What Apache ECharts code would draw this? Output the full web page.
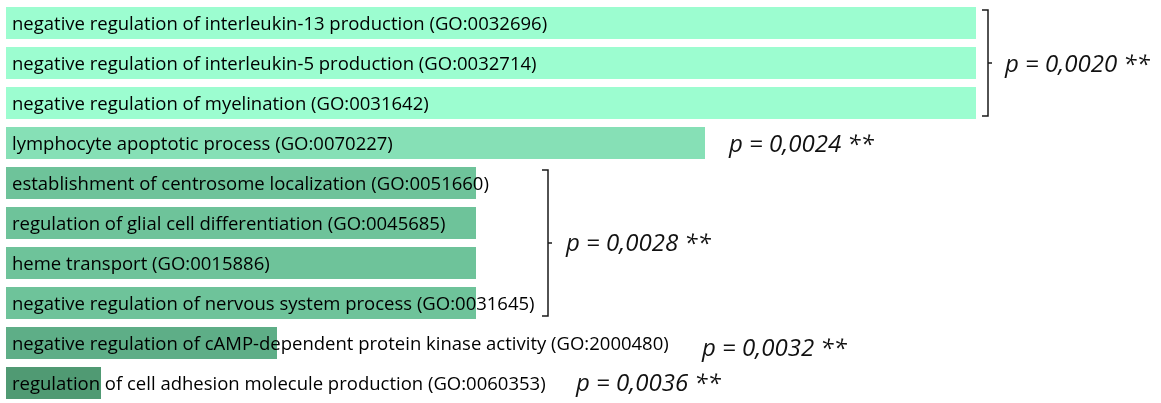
<!DOCTYPE html>
<html>
<head>
<meta charset="utf-8">
<script src="https://cdn.jsdelivr.net/npm/echarts@6/dist/echarts.min.js"></script>
<style>
  html, body { margin: 0; padding: 0; background: #fff; }
  #chart { width: 1161px; height: 403px; }
</style>
</head>
<body>
<div id="chart"></div>
<script>
// ---- data ----
var categories = [
  'negative regulation of interleukin-13 production (GO:0032696)',
  'negative regulation of interleukin-5 production (GO:0032714)',
  'negative regulation of myelination (GO:0031642)',
  'lymphocyte apoptotic process (GO:0070227)',
  'establishment of centrosome localization (GO:0051660)',
  'regulation of glial cell differentiation (GO:0045685)',
  'heme transport (GO:0015886)',
  'negative regulation of nervous system process (GO:0031645)',
  'negative regulation of cAMP-dependent protein kinase activity (GO:2000480)',
  'regulation of cell adhesion molecule production (GO:0060353)'
];
var values = [97, 97, 97, 69.9, 47, 47, 47, 47, 27.1, 9.5];
var pValues = ['0,0020', '0,0024', '0,0028', '0,0032', '0,0036'];
var groupStart = [0, 3, 4, 8, 9];
var groupEnd = [2, 3, 7, 8, 9];
var groupStars = ['**', '**', '**', '**', '**'];

// ---- styles / layout (not data) ----
var groupColors = ['#9cfdd0', '#86e0b6', '#6ec39a', '#5eae87', '#509a73'];
var bracketOffset = [12, null, 72, null, null];   // px right of bar end
var textOffset = [29, 24, 90, 425, 475];          // px right of bar end
var textDy = [2, 2, 1, 6, 1];

var barColors = values.map(function (v, i) {
  for (var g = 0; g < groupStart.length; g++) {
    if (i >= groupStart[g] && i <= groupEnd[g]) return groupColors[g];
  }
});

var annData = groupStart.map(function (s, g) { return [s, groupEnd[g], g]; });

var chart = echarts.init(document.getElementById('chart'), null, { renderer: 'canvas' });
chart.setOption({
  animation: false,
  grid: { left: 6, top: 3, width: 1000, height: 401 },
  xAxis: { type: 'value', min: 0, max: 100, show: false },
  yAxis: { type: 'category', data: categories, inverse: true, show: false },
  series: [
    {
      type: 'bar',
      barWidth: 32,
      data: values.map(function (v, i) {
        return { value: v, itemStyle: { color: barColors[i] } };
      }),
      label: {
        show: true,
        position: 'insideLeft',
        distance: 6,
        offset: [0, 1.5],
        color: '#000',
        fontSize: 18.5,
        fontFamily: 'Open Sans',
        formatter: function (p) { return categories[p.dataIndex]; }
      }
    },
    {
      type: 'custom',
      coordinateSystem: 'cartesian2d',
      data: annData,
      encode: { x: 2, y: 0 },
      renderItem: function (params, api) {
        var s = api.value(0), e = api.value(1), g = api.value(2);
        var maxV = 0;
        for (var i = s; i <= e; i++) maxV = Math.max(maxV, values[i]);
        var top = api.coord([maxV, s]);
        var bot = api.coord([maxV, e]);
        var barEnd = top[0];
        var yTop = top[1] - 13;
        var yBot = bot[1] + 13;
        var yMid = (top[1] + bot[1]) / 2;
        var children = [];
        var lineStyle = { stroke: '#1a1a1a', lineWidth: 1.5, fill: 'none' };
        if (bracketOffset[g] != null) {
          var bx = barEnd + bracketOffset[g];
          children.push({ type: 'polyline', shape: { points: [[bx - 6, yTop], [bx, yTop], [bx, yBot], [bx - 6, yBot]] }, style: lineStyle });
          children.push({ type: 'line', shape: { x1: bx, y1: yMid, x2: bx + 4, y2: yMid }, style: lineStyle });
        }
        children.push({
          type: 'text',
          style: {
            text: 'p = ' + pValues[g] + ' ' + groupStars[g],
            x: barEnd + textOffset[g],
            y: yMid + textDy[g],
            verticalAlign: 'middle',
            align: 'left',
            fontStyle: 'italic',
            fontSize: 24,
            fontFamily: 'Open Sans',
            fill: '#111'
          }
        });
        return { type: 'group', children: children };
      },
      z: 10
    }
  ]
});
</script>
</body>
</html>
